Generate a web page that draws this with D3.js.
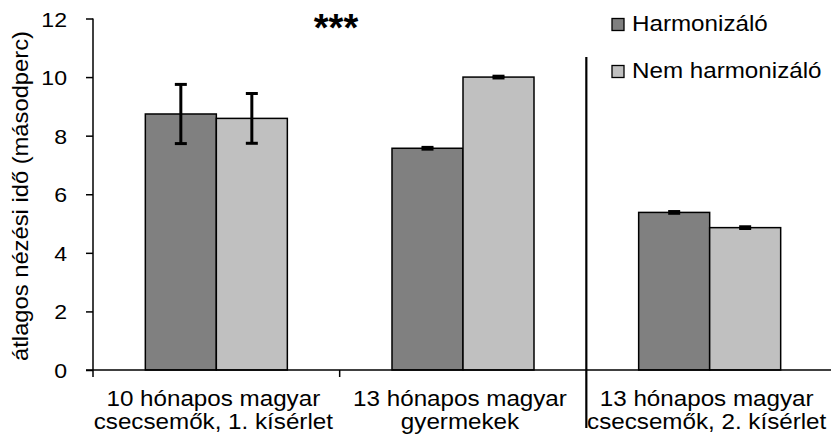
<!DOCTYPE html>
<html><head><meta charset="utf-8">
<script src="https://cdn.jsdelivr.net/npm/d3@7"></script>
<style>body{margin:0;background:#fff}svg{display:block}text{font-family:"Liberation Sans",Arial,sans-serif;fill:#000}</style>
</head><body>
<script>
const categories = [["10 hónapos magyar","csecsemők, 1. kísérlet"],["13 hónapos magyar","gyermekek"],["13 hónapos magyar","csecsemők, 2. kísérlet"]];
const series = ["Harmonizáló","Nem harmonizáló"];
const harmonizalo = [8.74, 7.57, 5.38];
const nemHarmonizalo = [8.59, 10.0, 4.86];
const errHarmonizalo = [1.01, 0.03, 0.03];
const errNemHarmonizalo = [0.85, 0.03, 0.03];
const yTicks = [0,2,4,6,8,10,12];
const yTitle = "átlagos nézési idő (másodperc)";
const significance = "***";
const colors = ["#808080","#c0c0c0"];

const W=831,H=441;
const svg=d3.select("body").append("svg").attr("width",W).attr("height",H);
svg.append("rect").attr("width",W).attr("height",H).attr("fill","#fff");
const SX=1.1;
const y=d3.scaleLinear().domain([0,12]).range([370,18.5]);
const catIdx=categories.map((d,i)=>i);
const x0=d3.scaleBand().domain(catIdx).range([93,833]).paddingInner(0).paddingOuter(0);
const x1=d3.scaleBand().domain(series).range([0,x0.bandwidth()]).paddingInner(0).paddingOuter(0.737);

const data=catIdx.map(i=>({i,vals:[
 {s:series[0],v:harmonizalo[i],e:errHarmonizalo[i],c:colors[0]},
 {s:series[1],v:nemHarmonizalo[i],e:errNemHarmonizalo[i],c:colors[1]}]}));

// bars
const g=svg.append("g");
data.forEach(d=>{
  d.vals.forEach(b=>{
    g.append("rect").attr("x",x0(d.i)+x1(b.s)).attr("y",y(b.v))
     .attr("width",x1.bandwidth()).attr("height",y(0)-y(b.v))
     .attr("fill",b.c).attr("stroke","#000").attr("stroke-width",1.5);
  });
});
// error bars
data.forEach(d=>{
  d.vals.forEach(b=>{
    const cx=x0(d.i)+x1(b.s)+x1.bandwidth()/2;
    const eg=svg.append("g").attr("stroke","#000").attr("stroke-width",3);
    eg.append("line").attr("x1",cx).attr("x2",cx).attr("y1",y(b.v+b.e)).attr("y2",y(b.v-b.e));
    eg.append("line").attr("x1",cx-6).attr("x2",cx+6).attr("y1",y(b.v+b.e)).attr("y2",y(b.v+b.e));
    eg.append("line").attr("x1",cx-6).attr("x2",cx+6).attr("y1",y(b.v-b.e)).attr("y2",y(b.v-b.e));
  });
});

// y axis
const ya=svg.append("g").attr("transform","translate(93,0)")
 .call(d3.axisLeft(y).tickValues(yTicks).tickSize(7).tickPadding(0).tickFormat(d3.format("d")));
ya.select(".domain").attr("stroke","#000").attr("stroke-width",1.5).attr("d",`M0,${y(12)}V${y(0)}`);
ya.selectAll(".tick line").attr("stroke","#000").attr("stroke-width",1.5);
ya.selectAll(".tick text").attr("font-size",21).attr("font-family","Liberation Sans")
  .attr("dy","0.36em").attr("text-anchor","end")
  .attr("transform",`scale(${SX},1)`).attr("x",-26/SX);

// x axis
svg.append("line").attr("x1",86).attr("x2",W).attr("y1",y(0)).attr("y2",y(0)).attr("stroke","#000").attr("stroke-width",1.5);
[0,1].forEach(i=>{
  const tx=x0(i);
  svg.append("line").attr("x1",tx).attr("x2",tx).attr("y1",y(0)).attr("y2",y(0)+7).attr("stroke","#000").attr("stroke-width",1.5);
});
// separator
const sepX=x0(2);
svg.append("line").attr("x1",sepX).attr("x2",sepX).attr("y1",57).attr("y2",428).attr("stroke","#000").attr("stroke-width",2.2);

// category labels
categories.forEach((lines,i)=>{
  const cx=x0(i)+x0.bandwidth()/2 - 3;
  lines.forEach((t,j)=>{
    svg.append("text").attr("transform",`translate(${cx},${406+j*23}) scale(1.1,1)`)
      .attr("text-anchor","middle").attr("font-size",22).text(t);
  });
});

// y title
svg.append("text").attr("transform",`translate(28,196) rotate(-90) scale(1.08,1)`)
  .attr("text-anchor","middle").attr("font-size",22).text(yTitle);

// significance
svg.append("text").attr("x",336).attr("y",41).attr("text-anchor","middle")
  .attr("font-family","DejaVu Sans").attr("font-weight","bold").attr("font-size",38).text(significance);

// legend
series.forEach((s,i)=>{
  const ly=18.5+i*47;
  svg.append("rect").attr("x",612).attr("y",ly).attr("width",12).attr("height",12)
    .attr("fill",colors[i]).attr("stroke","#000").attr("stroke-width",1.3);
  svg.append("text").attr("transform",`translate(632,${ly+12}) scale(1.1,1)`)
    .attr("font-size",22).text(s);
});
</script>
</body></html>
